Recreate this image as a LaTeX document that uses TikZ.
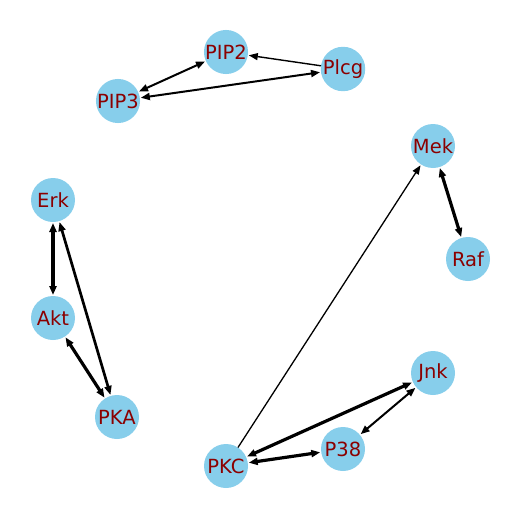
\documentclass[tikz,border=0pt]{standalone}
\usepackage{fontspec}
\setmainfont{DejaVu Sans}
\usetikzlibrary{arrows.meta}
\definecolor{nodeblue}{RGB}{135,206,235}
\definecolor{labelred}{RGB}{139,0,0}
\begin{document}
\begin{tikzpicture}[x=1pt,y=-1pt,
  gene/.style={circle,fill=nodeblue,minimum size=44pt,inner sep=0pt,outer sep=0pt,
    text=labelred,font=\fontsize{19.5}{22}\selectfont},
  edge/.style={draw=black,-{Triangle[length=9pt,width=7pt]},shorten >=1pt},
  bi/.style={draw=black,{Triangle[length=9pt,width=7pt]}-{Triangle[length=9pt,width=7pt]},shorten >=1pt,shorten <=1pt},
  thin edge/.style={line width=1.4pt},
  mid edge/.style={line width=2pt},
  thick edge/.style={line width=3.2pt}]
\useasboundingbox (0,0) rectangle (519,519);
\node[gene] (PIP2) at (226,52) {PIP2};
\node[gene] (Plcg) at (343,69) {Plcg};
\node[gene] (PIP3) at (118,101) {PIP3};
\node[gene] (Mek) at (433,146) {Mek};
\node[gene] (Raf) at (468,259) {Raf};
\node[gene] (Erk) at (53,200) {Erk};
\node[gene] (Akt) at (53,318) {Akt};
\node[gene] (PKA) at (117,417) {PKA};
\node[gene] (Jnk) at (433,373) {Jnk};
\node[gene] (P38) at (343,449) {P38};
\node[gene] (PKC) at (226,466) {PKC};

\draw[edge,thin edge] (Plcg) -- (PIP2);
\draw[bi,mid edge] (PIP2) -- (PIP3);
\draw[bi,mid edge] (PIP3) -- (Plcg);
\draw[bi,thick edge] (Mek) -- (Raf);
\draw[bi,thick edge] (Erk) -- (Akt);
\draw[bi,line width=2.7pt] (Erk) -- (PKA);
\draw[bi,thick edge] (Akt) -- (PKA);
\draw[edge,line width=1.3pt] (PKC) -- (Mek);
\draw[bi,thick edge] (Jnk) -- (PKC);
\draw[bi,mid edge] (Jnk) -- (P38);
\draw[bi,thick edge] (PKC) -- (P38);
\end{tikzpicture}
\end{document}
